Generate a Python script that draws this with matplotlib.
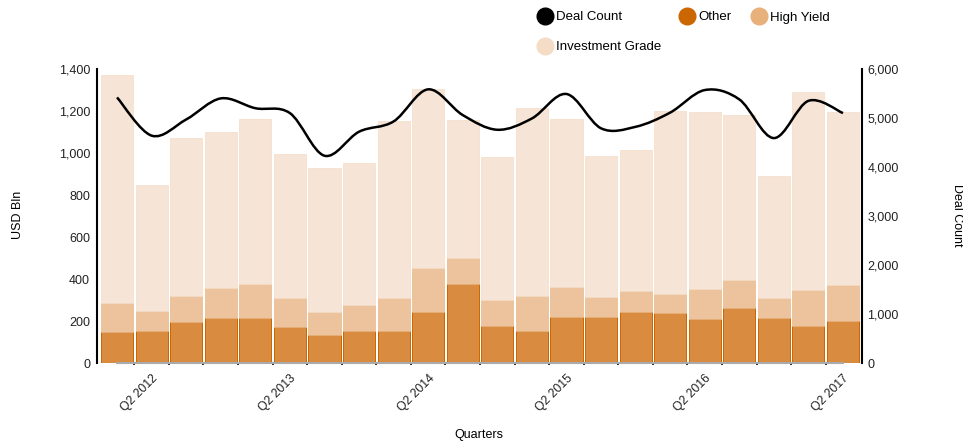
import numpy as np
import matplotlib
matplotlib.use('Agg')
import matplotlib.pyplot as plt
import matplotlib.transforms as mtransforms
from matplotlib.path import Path
from matplotlib.patches import PathPatch

plt.rcParams['font.family'] = ['Liberation Sans', 'DejaVu Sans']

# data (USD Bln, stacked) and deal counts
quarters = [f'Q{q} {y}' for y in range(2012, 2018) for q in range(1, 5)][:22]
other = [146, 151, 193, 212, 212, 171, 132, 151, 151, 241, 374,
         178, 151, 219, 220, 241, 236, 208, 260, 212, 174, 201]
high_yield_top = [285, 246, 320, 357, 377, 308, 244, 277, 308, 453, 501,
                  298, 317, 360, 312, 344, 328, 354, 396, 308, 346, 373]
total_top = [1371, 847, 1070, 1100, 1162, 996, 927, 954, 1153, 1305, 1157,
             980, 1216, 1162, 986, 1013, 1200, 1197, 1181, 889, 1291, 1194]
deal_count = [5420, 4640, 4970, 5400, 5200, 5100, 4230, 4720, 4930, 5585, 5060,
              4760, 4990, 5490, 4790, 4820, 5110, 5570, 5380, 4590, 5350, 5100]

high_yield = [h - o for h, o in zip(high_yield_top, other)]
inv_grade = [t - h for t, h in zip(total_top, high_yield_top)]

x = np.arange(len(quarters))

fig = plt.figure(figsize=(9.63, 4.43), dpi=100)
ax = fig.add_axes([97/963, 1-363/443, (862-97)/963, (363-69)/443])

w = 0.93
ax.bar(x, other, w, color='#d98c3f', edgecolor='#cc6600', linewidth=0.7, zorder=2)
ax.bar(x, high_yield, w, bottom=other, color='#ecc39c', edgecolor='#e8b888', linewidth=0.5, zorder=2)
ax.bar(x, inv_grade, w, bottom=high_yield_top, color='#f6e5d6', edgecolor='#f3dcc6', linewidth=0.5, zorder=2)

ax.set_xlim(-0.58, 21.55)
ax.set_ylim(0, 1400)
ax.set_yticks(range(0, 1401, 200))
ax.set_yticklabels([f'{v:,}' for v in range(0, 1401, 200)], fontsize=9, color='#222222')
ax.tick_params(axis='y', length=0, pad=5)

tick_pos = [1, 5, 9, 13, 17, 21]
ax.set_xticks(tick_pos)
ax.set_xticklabels([quarters[i] for i in tick_pos], rotation=45, ha='right',
                   va='top', rotation_mode='anchor', fontsize=8.8, color='#222222')
offset = mtransforms.ScaledTranslation(15/100, 0, fig.dpi_scale_trans)
for lab in ax.get_xticklabels():
    lab.set_transform(lab.get_transform() + offset)
ax.tick_params(axis='x', length=0, pad=7)
ax.set_xticks(x[:-1] + 0.5, minor=True)
ax.tick_params(axis='x', which='minor', length=1.5, width=1.2, color='black')

ax.spines['top'].set_visible(False)
ax.spines['right'].set_visible(False)
ax.spines['left'].set_linewidth(1.5)
ax.spines['bottom'].set_color('#aaaaaa')
ax.spines['bottom'].set_linewidth(1.5)
ax.spines['bottom'].set_bounds(0, 21)

ax2 = ax.twinx()
ax2.set_ylim(0, 6000)
ax2.set_yticks(range(0, 6001, 1000))
ax2.set_yticklabels([f'{v:,}' for v in range(0, 6001, 1000)], fontsize=9, color='#222222')
ax2.tick_params(axis='y', length=0, pad=4)
for s in ['top', 'left', 'bottom']:
    ax2.spines[s].set_visible(False)
ax2.spines['right'].set_linewidth(1.5)

# smooth line through the deal counts (catmull-rom as bezier)
pts = np.column_stack([x, deal_count]).astype(float)
ext = np.vstack([pts[0], pts, pts[-1]])
verts = [tuple(pts[0])]
codes = [Path.MOVETO]
for i in range(1, len(ext) - 2):
    p0, p1, p2, p3 = ext[i-1], ext[i], ext[i+1], ext[i+2]
    c1 = p1 + (p2 - p0) / 6
    c2 = p2 - (p3 - p1) / 6
    verts += [tuple(c1), tuple(c2), tuple(p2)]
    codes += [Path.CURVE4] * 3
ax2.add_patch(PathPatch(Path(verts, codes), facecolor='none', edgecolor='black',
                        linewidth=1.8, zorder=5))

fig.text(479/963, 1-435/443, 'Quarters', ha='center', va='center', fontsize=9)
fig.text(18/963, 1-215/443, 'USD Bln', ha='center', va='center', rotation=90, fontsize=9)
fig.text(957/963, 1-215/443, 'Deal Count', ha='center', va='center', rotation=-90, fontsize=9)

# legend
legend_items = [('Deal Count', 'black', 545, 16), ('Other', '#cc6600', 687, 16),
                ('High Yield', '#e8b07a', 759, 16), ('Investment Grade', '#f5dcc6', 545, 46)]
for name, col, px, py in legend_items:
    fig.lines.append(plt.Line2D([px/963], [1-py/443], marker='o', markersize=12,
                                color=col, transform=fig.transFigure, linestyle='none'))
    fig.text((px+11)/963, 1-(py+1.5)/443, name, ha='left', va='center', fontsize=9.5)

fig.savefig('out.png', dpi=100)
